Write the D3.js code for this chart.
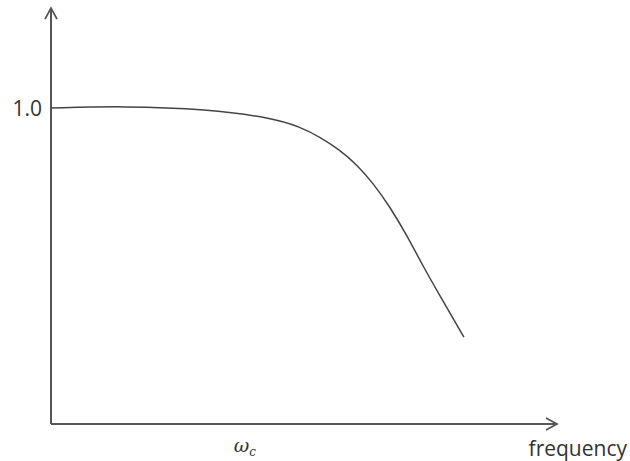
<!DOCTYPE html>
<html>
<head>
<meta charset="utf-8">
<script src="https://cdn.jsdelivr.net/npm/d3@7"></script>
<style>
  body { margin: 0; background: #fff; }
  text { fill: #333; }
</style>
</head>
<body>
<svg id="chart" width="630" height="461"></svg>
<script>
// Low-pass response sketch (frequency in arbitrary units 0..100)
const freq = [0, 14.2, 30.8, 43.9, 49.2, 53.2, 57.1, 60.5, 63.6, 67.0, 70.4, 73.5, 76.9, 80.2, 81.6];
const gain = [1.0, 1.006, 0.997, 0.968, 0.94, 0.908, 0.867, 0.82, 0.763, 0.687, 0.595, 0.5, 0.405, 0.313, 0.275];
const yTicks = [1.0];
const cutoff = 38.3; // where the omega_c label sits

const X0 = 51, Y0 = 424;

const svg = d3.select('#chart');

const xScale = d3.scaleLinear().domain([0, 100]).range([X0, X0 + 506]);
const yScale = d3.scaleLinear().domain([0, 1]).range([Y0, 108]);

// axes, drawn as plain lines with open arrow heads
const axisColor = '#555';
svg.append('line')
  .attr('x1', X0).attr('y1', Y0)
  .attr('x2', xScale(100)).attr('y2', Y0)
  .attr('stroke', axisColor).attr('stroke-width', 2);
svg.append('line')
  .attr('x1', X0).attr('y1', Y0)
  .attr('x2', X0).attr('y2', yScale(1.316))
  .attr('stroke', axisColor).attr('stroke-width', 2);

// arrow heads
const xTip = xScale(100), yTip = yScale(1.316);
svg.append('path')
  .attr('d', `M${xTip - 11},${Y0 - 6} L${xTip},${Y0} L${xTip - 11},${Y0 + 6}`)
  .attr('fill', 'none').attr('stroke', axisColor).attr('stroke-width', 1.8);
svg.append('path')
  .attr('d', `M${X0 - 6},${yTip + 11} L${X0},${yTip} L${X0 + 6},${yTip + 11}`)
  .attr('fill', 'none').attr('stroke', axisColor).attr('stroke-width', 1.8);

// y tick label
svg.selectAll('.ylab')
  .data(yTicks)
  .enter()
  .append('text')
  .attr('class', 'ylab')
  .attr('x', X0 - 9)
  .attr('y', d => yScale(d) + 8)
  .attr('text-anchor', 'end')
  .style('font-family', '"Open Sans", sans-serif')
  .style('font-size', '21px')
  .text(d => d3.format('.1f')(d));

// x axis label
svg.append('text')
  .attr('x', 627)
  .attr('y', 456)
  .attr('text-anchor', 'end')
  .style('font-family', '"Open Sans", sans-serif')
  .style('font-size', '21px')
  .text('frequency');

// omega_c
const wc = svg.append('text')
  .attr('x', xScale(cutoff))
  .attr('y', 452)
  .attr('text-anchor', 'middle')
  .style('font-family', '"DejaVu Serif", serif')
  .style('font-style', 'italic')
  .style('font-size', '19px');
wc.append('tspan').text('\u03c9');
wc.append('tspan').attr('dy', 4).style('font-size', '12px').text('c');

// response curve (basis spline to smooth out reading noise)
const lineGenerator = d3.line()
  .x((d, i) => xScale(freq[i]))
  .y(d => yScale(d))
  .curve(d3.curveBasis);

svg.append('path')
  .datum(gain)
  .attr('d', lineGenerator)
  .attr('fill', 'none')
  .attr('stroke', '#444')
  .attr('stroke-width', 1.5);
</script>
</body>
</html>
